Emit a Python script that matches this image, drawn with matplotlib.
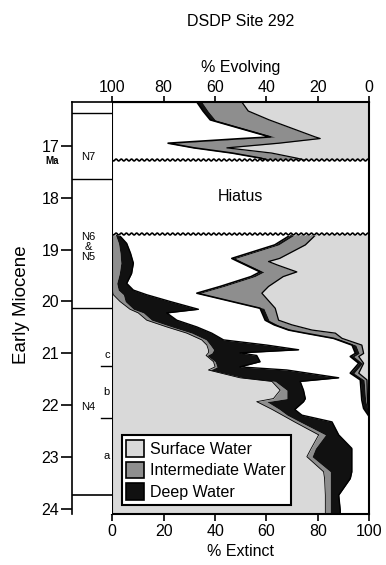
import numpy as np
import matplotlib
matplotlib.use("Agg")
import matplotlib.pyplot as plt
from matplotlib.patches import Patch

plt.rcParams['font.family'] = ['Liberation Sans', 'DejaVu Sans']

# colours for the three water masses
c_surf = '#d9d9d9'
c_inter = '#8e8e8e'
c_deep = '#111111'

# -------------------------------
# % Extinct (stacked from the left), below the hiatus
# -------------------------------
ext_age = [18.70, 18.88, 19.07, 19.26, 19.46, 19.65, 19.78, 19.87, 20.00, 20.15,
           20.22, 20.36, 20.49, 20.61, 20.74, 20.84, 20.93, 20.99, 21.04, 21.16,
           21.26, 21.32, 21.47, 21.54, 21.71, 21.87, 21.93, 22.08, 22.19, 22.32,
           22.57, 22.83, 22.99, 23.28, 23.41, 23.73, 24.02, 24.12]
ext_surface = [0, 0, 0, 0, 0, 0, 0, 0.4, 3.0, 6.9,
               10.1, 13.4, 21.2, 29.0, 34.8, 36.8, 37.4, 37.4, 36.5, 39.4,
               40.0, 37.4, 49.7, 62.1, 65.3, 62.7, 56.2, 62.2, 66.2, 70.9,
               80.3, 77.4, 75.7, 82.2, 82.6, 82.9, 82.9, 82.9]
ext_inter = [1.1, 2.4, 3.0, 3.3, 2.7, 1.7, 2.3, 3.9, 2.0, 1.3,
             2.0, 1.9, 1.9, 1.9, 1.7, 1.3, 2.0, 1.3, 0.3, 0.6,
             0.7, 0.7, 1.3, 1.3, 2.6, 5.2, 3.9, 2.8, 1.8, 2.1,
             2.6, 1.6, 2.0, 2.6, 2.2, 1.9, 1.9, 1.9]
ext_deep = [1.2, 3.2, 4.1, 4.9, 4.8, 3.9, 5.9, 9.1, 17.5, 25.3,
            9.1, 9.8, 9.8, 7.8, 6.8, 22.0, 33.1, 11.0, 19.4, 17.5,
            9.0, 29.8, 37.1, 9.7, 6.5, 7.2, 14.3, 6.0, 5.8, 12.5,
            5.2, 14.2, 15.5, 8.4, 7.8, 3.3, 3.9, 3.9]

# -------------------------------
# % Evolving (stacked from the right)
# -------------------------------
# N7, above the hiatus
evo_top_age = [16.156, 16.33, 16.50, 16.83, 16.86, 16.95, 17.04, 17.14, 17.24, 17.28]
evo_top_surface = [49.6, 47.1, 39.0, 21.0, 19.1, 35.2, 55.4, 38.0, 28.0, 25.0]
evo_top_inter = [15.5, 15.6, 20.9, 15.6, 28.3, 41.1, 10.8, 13.4, 12.0, 13.0]
evo_top_deep = [2.0, 2.0, 2.0, 2.0, 2.0, 2.0, 2.0, 2.0, 2.0, 2.0]

# N6/N5 and N4, below the hiatus
evo_age = [18.70, 18.91, 19.17, 19.23, 19.30, 19.43, 19.52, 19.71, 19.84, 20.13,
           20.36, 20.45, 20.55, 20.61, 20.71, 20.84, 21.00, 21.06, 21.19, 21.38,
           21.51, 21.90, 22.06, 22.22]
evo_surface = [20.5, 24.9, 34.9, 39.2, 35.6, 28.2, 33.5, 39.2, 41.8, 36.6,
               35.3, 30.1, 22.3, 13.2, 10.6, 2.9, 2.2, 4.1, 2.2, 4.1,
               0.9, 0.7, 0.5, 0.0]
evo_inter = [8.0, 10.4, 17.1, 10.3, 10.9, 12.8, 11.0, 17.3, 23.8, 4.4,
             3.7, 5.4, 7.6, 10.3, 1.8, 2.3, 1.7, 1.8, 0.4, 1.8,
             1.1, 0.7, 0.2, 0.0]
evo_deep = [1.5, 1.5, 1.5, 1.5, 1.5, 1.5, 1.5, 1.5, 1.5, 1.5,
            1.5, 1.5, 1.5, 1.5, 1.5, 1.5, 1.5, 1.5, 1.5, 1.5,
            1.5, 1.5, 1.5, 0.0]

# zones and ticks
age_ticks = [17, 18, 19, 20, 21, 22, 23, 24]
pct_ticks = [0, 20, 40, 60, 80, 100]
zone_lines = [16.374, 17.64, 20.13]
zone_bottom = 23.73
subzone_lines = [21.24, 22.25]
hiatus_top = 17.274
hiatus_bottom = 18.70

y_top, y_bot = 16.156, 24.094

fig = plt.figure(figsize=(3.86, 5.65), dpi=100)
ax = fig.add_axes([0.2909, 0.0903, 0.6658, 0.7292])
axz = fig.add_axes([0.1858, 0.0903, 0.1036, 0.7292])

# -------------------------------
# extinct stack
# -------------------------------
ea = np.array(ext_age)
l1 = np.array(ext_surface)
l2 = l1 + np.array(ext_inter)
l3 = l2 + np.array(ext_deep)
ax.fill_betweenx(ea, 0, l1, color=c_surf, lw=0)
ax.fill_betweenx(ea, l1, l2, color=c_inter, lw=0)
ax.fill_betweenx(ea, l2, l3, color=c_deep, lw=0)
ax.plot(l1, ea, color='k', lw=0.6)
ax.plot(l3, ea, color='k', lw=1.0)


def evolving(age, surf, inter, deep):
    age = np.array(age)
    r1 = 100 - np.array(surf)
    r2 = r1 - np.array(inter)
    r3 = r2 - np.array(deep)
    ax.fill_betweenx(age, r1, 100, color=c_surf, lw=0)
    ax.fill_betweenx(age, r2, r1, color=c_inter, lw=0)
    ax.fill_betweenx(age, r3, r2, color=c_deep, lw=0)
    ax.plot(r1, age, color='k', lw=0.9)
    ax.plot(r3, age, color='k', lw=1.2)


evolving(evo_top_age, evo_top_surface, evo_top_inter, evo_top_deep)
evolving(evo_age, evo_surface, evo_inter, evo_deep)

# hiatus band with wavy unconformity lines
xw = np.linspace(0, 100, 500)
wave = 0.018 * np.sin(2 * np.pi * xw / 2.0)
ax.fill_between(xw, hiatus_top + wave, hiatus_bottom + wave, color='white', zorder=3)
ax.plot(xw, hiatus_top + wave, color='k', lw=1.2, zorder=4)
ax.plot(xw, hiatus_bottom + wave, color='k', lw=1.2, zorder=4)
ax.text(50, 17.98, "Hiatus", ha='center', va='center', fontsize=11.5, zorder=5)

ax.set_xlim(0, 100)
ax.set_ylim(y_bot, y_top)
ax.set_yticks([])
ax.set_xticks(pct_ticks)
ax.tick_params(axis='x', direction='out', length=5, width=1.2, labelsize=11.5, pad=2)
ax.set_xlabel("% Extinct", fontsize=11.5, labelpad=4)
for s in ax.spines.values():
    s.set_linewidth(1.5)
    s.set_zorder(7)

top = ax.secondary_xaxis('top', functions=(lambda x: 100 - x, lambda x: 100 - x))
top.set_xticks(pct_ticks)
top.tick_params(direction='out', length=4, width=1.2, labelsize=11.5, pad=1)
top.set_xlabel("% Evolving", fontsize=11.5, labelpad=6)

leg = ax.legend(handles=[Patch(facecolor=c_surf, edgecolor='k', lw=1.2, label="Surface Water"),
                         Patch(facecolor=c_inter, edgecolor='k', lw=1.2, label="Intermediate Water"),
                         Patch(facecolor=c_deep, edgecolor='k', lw=1.2, label="Deep Water")],
                loc='lower left', bbox_to_anchor=(0.036, 0.022), borderaxespad=0,
                fontsize=11.5, fancybox=False, framealpha=1, edgecolor='k',
                handlelength=1.1, handleheight=1.25, handletextpad=0.4,
                labelspacing=0.3, borderpad=0.3)
leg.get_frame().set_linewidth(1.5)
leg.set_zorder(6)

# -------------------------------
# planktonic foraminiferal zones
# -------------------------------
axz.set_xlim(0, 1)
axz.set_ylim(y_bot, y_top)
axz.set_xticks([])
axz.set_yticks(age_ticks)
axz.tick_params(axis='y', direction='out', length=8, width=1.2, labelsize=11.5, pad=1)
axz.spines['bottom'].set_visible(False)
axz.spines['right'].set_visible(False)
axz.spines['left'].set_linewidth(1.2)
axz.spines['top'].set_linewidth(1.2)
for z in zone_lines:
    axz.axhline(z, color='k', lw=1.0)
axz.axhline(zone_bottom, color='k', lw=1.2)
for z in subzone_lines:
    axz.plot([0.72, 1.0], [z, z], color='k', lw=1.0)
axz.text(0.41, 17.21, "N7", ha='center', va='center', fontsize=8)
axz.text(0.42, 18.95, "N6\n&\nN5", ha='center', va='center', fontsize=8, linespacing=1.0)
axz.text(0.40, 22.03, "N4", ha='center', va='center', fontsize=8)
axz.text(0.88, 21.03, "c", ha='center', va='center', fontsize=8)
axz.text(0.86, 21.74, "b", ha='center', va='center', fontsize=8)
axz.text(0.88, 22.98, "a", ha='center', va='center', fontsize=8)

fig.text(52 / 386, 1 - 161 / 565, "Ma", ha='center', va='center', fontsize=7, fontweight='bold')
fig.text(22 / 386, 1 - 305 / 565, "Early Miocene", ha='center', va='center', rotation=90, fontsize=13.5)
fig.text(241 / 386, 1 - 22 / 565, "DSDP Site 292", ha='center', va='center', fontsize=11.5)

fig.savefig("out.png", dpi=100)
